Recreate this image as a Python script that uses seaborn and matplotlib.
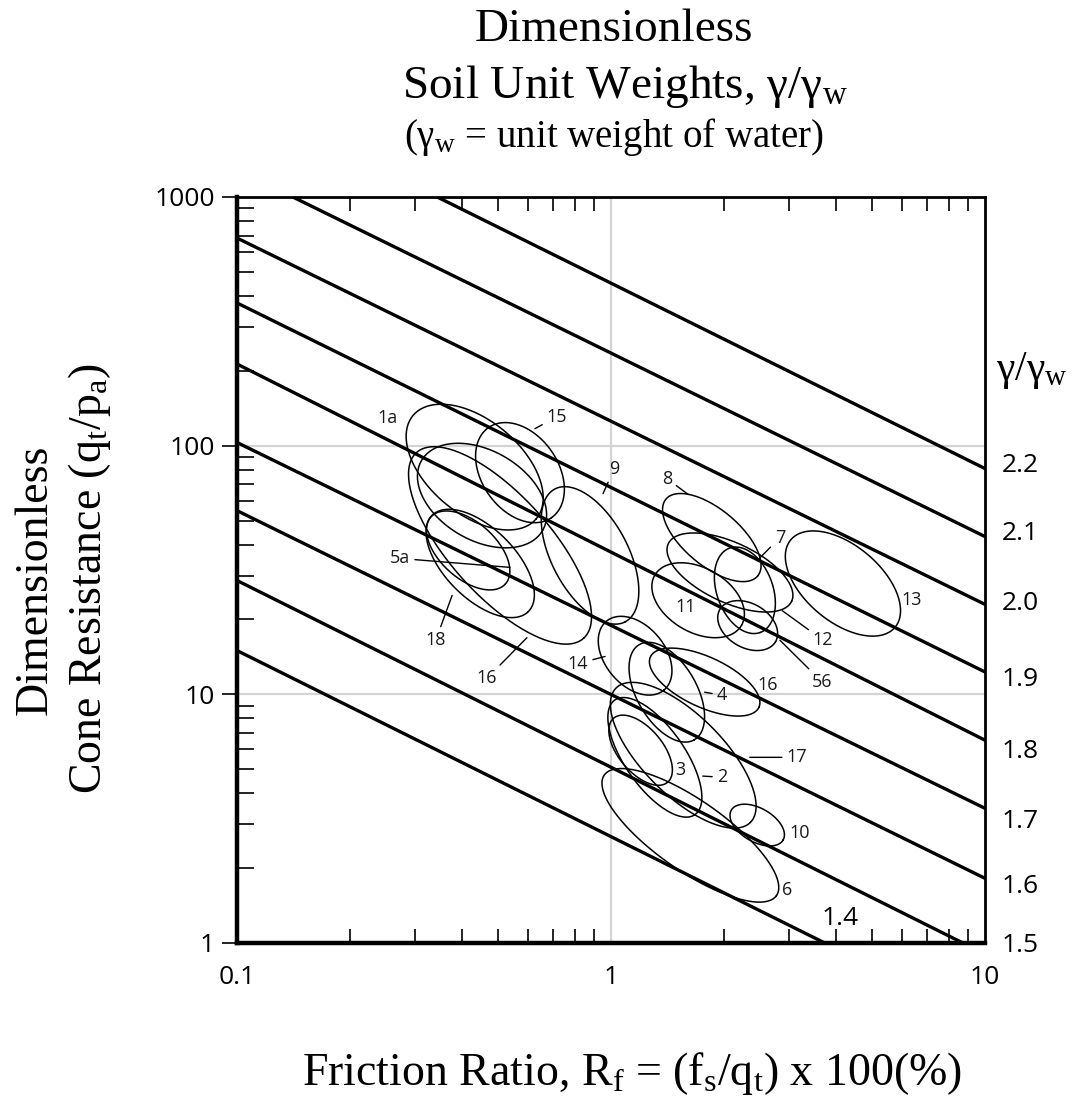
import numpy as np
import pandas as pd
import matplotlib
matplotlib.use("Agg")
import matplotlib.pyplot as plt
import matplotlib.transforms as mtrans
from matplotlib.ticker import FixedLocator, NullLocator, LogLocator, NullFormatter, FixedFormatter
import seaborn as sns

# ---------------- data ----------------
gamma_levels = [2.2, 2.1, 2.0, 1.9, 1.8, 1.7, 1.6, 1.5, 1.4]
line_rf_start = [0.343, 0.141, 0.1, 0.1, 0.1, 0.1, 0.1, 0.1, 0.1]
line_q_start = [1000, 1000, 684, 375, 213, 103, 54.8, 28.7, 15.0]
line_rf_end = [10, 10, 10, 10, 10, 10, 10, 8.73, 3.73]
line_q_end = [80.9, 43.1, 23.0, 12.3, 6.54, 3.48, 1.82, 1.0, 1.0]

right_labels = ["2.2", "2.1", "2.0", "1.9", "1.8", "1.7", "1.6", "1.5"]
right_label_q = [85.5, 45.5, 23.8, 11.8, 6.07, 3.18, 1.74, 1.0]

x_ticks = [0.1, 1, 10]
x_tick_labels = ["0.1", "1", "10"]
y_ticks = [1, 10, 100, 1000]
y_tick_labels = ["1", "10", "100", "1000"]
grid_x = [1]
grid_y = [10, 100]

# ellipses: centre (Rf, q), semi-axes in decades (display-x units), tilt in degrees
ell_id = ["1a", "1b", "15", "9", "5a", "18", "16L", "8", "12", "7", "11", "56",
          "13", "14", "4", "16R", "17", "2", "3", "10", "6"]
ell_rf = [0.432, 0.452, 0.571, 0.879, 0.415, 0.447, 0.505, 1.86, 2.08, 2.28, 1.71, 2.32,
          4.17, 1.16, 1.41, 1.78, 1.56, 1.31, 1.20, 2.46, 1.63]
ell_q = [82.0, 63.0, 77.9, 36.2, 37.9, 33.6, 39.7, 42.7, 30.9, 26.2, 23.9, 18.9,
         27.9, 14.3, 10.2, 11.2, 5.69, 5.58, 5.96, 2.98, 2.71]
ell_major = [0.215, 0.187, 0.147, 0.201, 0.134, 0.182, 0.334, 0.160, 0.182, 0.120, 0.134, 0.086,
             0.182, 0.120, 0.147, 0.160, 0.254, 0.187, 0.112, 0.080, 0.281]
ell_minor = [0.125, 0.120, 0.102, 0.102, 0.075, 0.094, 0.134, 0.075, 0.080, 0.075, 0.086, 0.059,
             0.102, 0.080, 0.080, 0.067, 0.107, 0.080, 0.059, 0.045, 0.094]
ell_angle = [-40, -30, -55, -62, -42, -45, -48, -40, -25, -70, -30, -30,
             -40, -50, -60, -25, -45, -55, -50, -30, -35]

lab_text = ["1a", "15", "9", "5a", "18", "16", "8", "7", "11", "12", "56", "13",
            "14", "4", "16", "17", "2", "3", "10", "6"]
lab_rf = [0.253, 0.717, 1.02, 0.273, 0.340, 0.466, 1.41, 2.83, 1.58, 3.69, 3.67, 6.38,
          0.816, 1.98, 2.63, 3.14, 1.98, 1.53, 3.20, 2.96]
lab_q = [129, 131, 80.8, 35.2, 16.5, 11.6, 73.7, 42.7, 22.4, 16.5, 11.2, 23.9,
         13.3, 9.91, 10.9, 5.58, 4.64, 4.95, 2.77, 1.63]
lead_rf = [None, 0.626, 0.952, 0.537, 0.376, 0.596, 1.61, 2.46, None, 2.87, 2.83, None,
           0.964, 1.78, None, 2.35, 1.76, None, None, None]
lead_q = [None, 117, 64.1, 32.4, 25.0, 16.9, 63.6, 34.5, None, 21.7, 16.5, None,
          14.2, 10.2, None, 5.58, 4.69, None, None, None]

# ---------------- styling ----------------
sns.set_theme(style="white")
plt.rcParams["font.family"] = ["Open Sans", "DejaVu Sans"]
plt.rcParams["mathtext.fontset"] = "custom"
plt.rcParams["mathtext.rm"] = "Liberation Serif"
plt.rcParams["mathtext.it"] = "Liberation Serif:italic"
plt.rcParams["text.color"] = "black"
plt.rcParams["axes.labelcolor"] = "black"
plt.rcParams["xtick.color"] = "black"
plt.rcParams["ytick.color"] = "black"
SERIF = ["Liberation Serif", "DejaVu Serif"]

W, H = 1087, 1107
fig = plt.figure(figsize=(W / 100, H / 100), dpi=100)
ax_l, ax_b, ax_w, ax_h = 237 / W, 1 - 943 / H, (985 - 237) / W, (943 - 197) / H
ax = fig.add_axes([ax_l, ax_b, ax_w, ax_h])
ax.set_xscale("log")
ax.set_yscale("log")

# grid lines
for gx in grid_x:
    ax.axvline(gx, color="#d4d4d4", lw=1.6, zorder=0)
for gy in grid_y:
    ax.axhline(gy, color="#d4d4d4", lw=1.6, zorder=0)

# unit-weight lines
lines_df = pd.DataFrame({
    "gamma": np.repeat(gamma_levels, 2),
    "Rf": np.column_stack([line_rf_start, line_rf_end]).ravel(),
    "q": np.column_stack([line_q_start, line_q_end]).ravel(),
})
sns.lineplot(data=lines_df, x="Rf", y="q", units="gamma", estimator=None,
             color="black", lw=2.4, ax=ax, legend=False, zorder=3)

# ellipses
k = (ax_h * H / 3.0) / (ax_w * W / 2.0)  # px per y-decade / px per x-decade
phi = np.linspace(0, 2 * np.pi, 181)
rows = []
for i, name in enumerate(ell_id):
    th = np.deg2rad(ell_angle[i])
    a, b = ell_major[i], ell_minor[i]
    u = a * np.cos(phi) * np.cos(th) - b * np.sin(phi) * np.sin(th)
    w = a * np.cos(phi) * np.sin(th) + b * np.sin(phi) * np.cos(th)
    lx = np.log10(ell_rf[i]) + u
    ly = np.log10(ell_q[i]) + w / k
    for j in range(len(phi)):
        rows.append((name, j, 10 ** lx[j], 10 ** ly[j]))
ell_df = pd.DataFrame(rows, columns=["eid", "order", "Rf", "q"])
sns.lineplot(data=ell_df, x="Rf", y="q", units="eid", estimator=None, sort=False,
             color="black", lw=1.1, ax=ax, legend=False, zorder=4)

# ellipse labels
for i, t in enumerate(lab_text):
    if lead_rf[i] is not None:
        ax.annotate(t, xy=(lead_rf[i], lead_q[i]), xytext=(lab_rf[i], lab_q[i]),
                    ha="center", va="center", fontsize=13, color="#1a1a1a", zorder=6,
                    arrowprops=dict(arrowstyle="-", lw=1.0, color="black",
                                    shrinkA=1, shrinkB=0))
    else:
        ax.text(lab_rf[i], lab_q[i], t, ha="center", va="center", fontsize=13,
                color="#1a1a1a", zorder=6)
ax.text(4.10, 1.26, "1.4", ha="center", va="center", fontsize=19, color="black", zorder=6)

ax.set_xlim(0.1, 10)
ax.set_ylim(1, 1000)
ax.set_xlabel("")
ax.set_ylabel("")

ax.xaxis.set_major_locator(FixedLocator(x_ticks))
ax.xaxis.set_major_formatter(FixedFormatter(x_tick_labels))
ax.yaxis.set_major_locator(FixedLocator(y_ticks))
ax.yaxis.set_major_formatter(FixedFormatter(y_tick_labels))
ax.xaxis.set_minor_locator(LogLocator(base=10, subs=np.arange(2, 10)))
ax.yaxis.set_minor_locator(LogLocator(base=10, subs=np.arange(2, 10)))
ax.xaxis.set_minor_formatter(NullFormatter())
ax.yaxis.set_minor_formatter(NullFormatter())

ax.tick_params(axis="y", which="major", direction="out", length=11, width=1.2,
               left=True, right=False, labelsize=19, pad=5, colors="black")
ax.tick_params(axis="y", which="minor", direction="in", length=12, width=1.2,
               left=True, right=False, colors="black")
ax.tick_params(axis="x", which="major", length=0, pad=16, labelsize=19,
               bottom=True, top=False, colors="black")
ax.tick_params(axis="x", which="minor", direction="in", length=10, width=1.2,
               bottom=True, top=True, colors="black")

for s in ["left", "bottom"]:
    ax.spines[s].set_linewidth(3.2)
for s in ["top", "right"]:
    ax.spines[s].set_linewidth(2.0)
for s in ax.spines.values():
    s.set_color("black")
    s.set_zorder(7)

# right-hand unit weight labels
ax2 = ax.twinx()
ax2.set_yscale("log")
ax2.set_ylim(1, 1000)
ax2.yaxis.set_major_locator(FixedLocator(right_label_q))
ax2.yaxis.set_major_formatter(FixedFormatter(right_labels))
ax2.yaxis.set_minor_locator(NullLocator())
ax2.tick_params(axis="y", which="both", length=0, pad=12, labelsize=19, colors="black")
for s in ax2.spines.values():
    s.set_visible(False)
ax2.grid(False)

blend = mtrans.blended_transform_factory(ax.transAxes, ax.transData)
ax.text(1.015, 200, "γ/γ$_\\mathrm{w}$", transform=blend, ha="left", va="center",
        fontsize=30, family=SERIF, color="black")

# titles and axis labels
cx = 614 / W
fig.text(cx, 1 - 41 / H, "Dimensionless", ha="center", va="baseline", fontsize=34, family=SERIF)
fig.text(cx + 0.01, 1 - 98 / H, "Soil Unit Weights, γ/γ$_\\mathrm{w}$", ha="center",
         va="baseline", fontsize=34, family=SERIF)
fig.text(cx, 1 - 147 / H, "(γ$_\\mathrm{w}$ = unit weight of water)", ha="center",
         va="baseline", fontsize=28, family=SERIF)

fig.text(35 / W, 1 - 580 / H, "Dimensionless", rotation=90, ha="center", va="center",
         fontsize=33, family=SERIF)
fig.text(90 / W, 1 - 578 / H, "Cone Resistance (q$_\\mathrm{t}$/p$_\\mathrm{a}$)", rotation=90,
         ha="center", va="center", fontsize=33, family=SERIF)

fig.text(632 / W, 1 - 1085 / H,
         "Friction Ratio, R$_\\mathrm{f}$ = (f$_\\mathrm{s}$/q$_\\mathrm{t}$) x 100(%)",
         ha="center", va="baseline", fontsize=33, family=SERIF)

fig.savefig("out.png", dpi=100, facecolor="white")
